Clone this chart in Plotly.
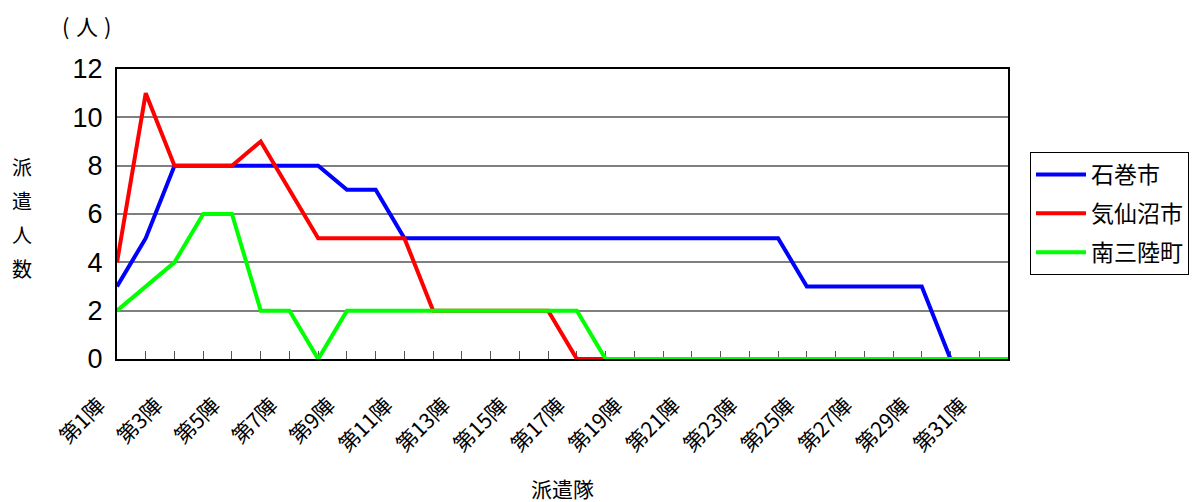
import plotly.graph_objects as go

# 派遣隊（第1陣〜第32陣）
categories = [f"第{i}陣" for i in range(1, 33)]
tick_labels = [c if i % 2 == 0 else "" for i, c in enumerate(categories)]

ishinomaki = [3, 5, 8, 8, 8, 8, 8, 8, 7, 7, 5, 5, 5, 5, 5, 5,
              5, 5, 5, 5, 5, 5, 5, 5, 3, 3, 3, 3, 3, 0, 0, 0]
kesennuma = [4, 11, 8, 8, 8, 9, 7, 5, 5, 5, 5, 2, 2, 2, 2, 2,
             0, 0, 0, 0, 0, 0, 0, 0, 0, 0, 0, 0, 0, 0, 0, 0]
minamisanriku = [2, 3, 4, 6, 6, 2, 2, 0, 2, 2, 2, 2, 2, 2, 2, 2,
                 2, 0, 0, 0, 0, 0, 0, 0, 0, 0, 0, 0, 0, 0, 0, 0]

series = [
    ("石巻市", ishinomaki, "#0000FF"),
    ("気仙沼市", kesennuma, "#FF0000"),
    ("南三陸町", minamisanriku, "#00FF00"),
]

FONT = "Liberation Sans, Arial, Noto Sans CJK JP, sans-serif"
JP = "Noto Sans CJK JP"

fig = go.Figure()
for name, vals, color in series:
    fig.add_trace(go.Scatter(
        x=categories, y=vals, name=name, mode="lines", legendgroup=name,
        line=dict(color=color, width=4), cliponaxis=False,
    ))

fig.update_layout(
    width=1192, height=502,
    margin=dict(l=117, r=184, t=69, b=143),
    paper_bgcolor="white", plot_bgcolor="white",
    font=dict(family=FONT, color="black"),
    showlegend=True,
    legend=dict(
        xref="container", yref="container",
        x=1030 / 1192, y=1 - 152 / 502, xanchor="left", yanchor="top",
        bordercolor="black", borderwidth=1, bgcolor="white",
        font=dict(size=23, family=JP),
        tracegroupgap=6, itemwidth=50,
    ),
)

fig.update_xaxes(
    type="category", range=[0, 31],
    tickmode="array", tickvals=categories, ticktext=tick_labels,
    tickangle=-45, tickfont=dict(size=21, family=JP),
    ticklabelstandoff=24, ticklabelshift=-18,
    ticks="inside", ticklen=8, tickcolor="#555", tickwidth=1,
    showline=True, linecolor="black", linewidth=2, mirror=True,
    showgrid=False, layer="below traces",
)
fig.update_yaxes(
    range=[0, 12], dtick=2, tick0=0,
    tickfont=dict(size=27, family=FONT),
    ticks="", ticklabelstandoff=7,
    showline=True, linecolor="black", linewidth=2, mirror=True,
    showgrid=True, gridcolor="#7f7f7f", gridwidth=1.5,
    zeroline=False, layer="below traces",
)

# 縦書きの軸タイトル
for k, ch in enumerate("派遣人数"):
    fig.add_annotation(
        text=ch, xref="paper", yref="paper",
        x=(22 - 117) / 891, y=(359 - (166 + 34 * k)) / 290,
        xanchor="center", yanchor="middle",
        showarrow=False, font=dict(size=20, family=JP),
    )
# 単位表示（人）
for px, ch in [(65, "("), (87, "人"), (107, ")")]:
    fig.add_annotation(
        text=ch, xref="paper", yref="paper",
        x=(px - 117) / 891, y=(359 - 25) / 290, xanchor="center", yanchor="middle",
        showarrow=False, font=dict(size=22, family=JP),
    )
fig.add_annotation(
    text="派遣隊", xref="paper", yref="paper",
    x=(562 - 117) / 891, y=-(488 - 359) / 290, xanchor="center", yanchor="middle",
    showarrow=False, font=dict(size=21, family=JP),
)

fig.write_html("out.html")
